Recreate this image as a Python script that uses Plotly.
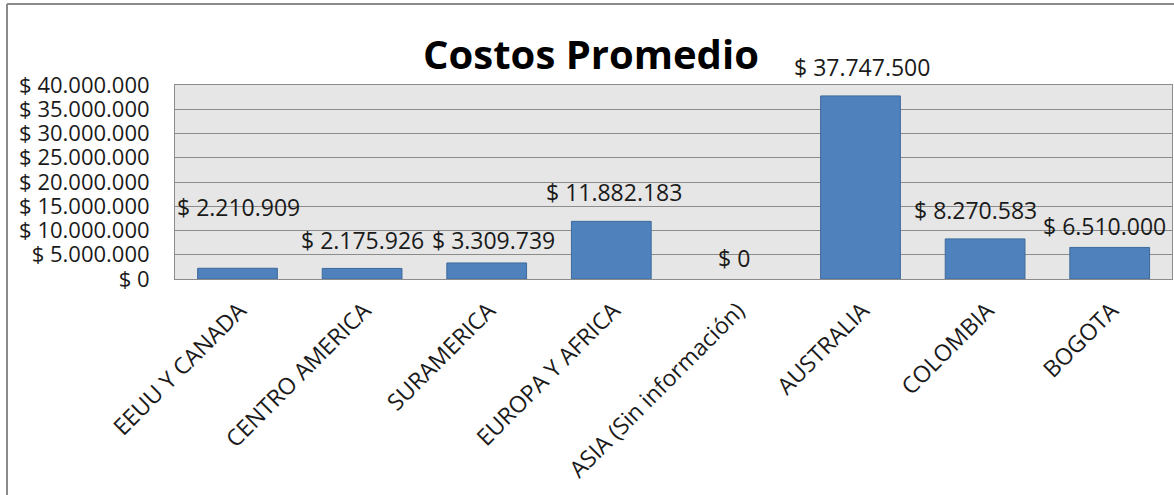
import plotly.graph_objects as go

categories = ["EEUU Y CANADA", "CENTRO AMERICA", "SURAMERICA", "EUROPA Y AFRICA",
              "ASIA (Sin información)", "AUSTRALIA", "COLOMBIA", "BOGOTA"]
values = [2210909, 2175926, 3309739, 11882183, 0, 37747500, 8270583, 6510000]
tick_vals = [0, 5000000, 10000000, 15000000, 20000000, 25000000, 30000000, 35000000, 40000000]

# label pixel offsets (style only)
label_yshift = [61, 28, 23, 29, 21, 29, 29, 21]
label_xshift = [1, 0, 7, 3, -2, 1, -10, -5]

def fmt(v):
    return "$ " + f"{v:,}".replace(",", ".")

W, H = 1174, 495
L, R, T, B = 175, 2, 85, 216

fig = go.Figure()
fig.add_trace(go.Bar(
    x=categories, y=values,
    marker=dict(color="#4f81bd",
                line=dict(color="#3d6a9c", width=[1 if v > 0 else 0 for v in values])),
    hoverinfo="x+y",
))

FONT = "Open Sans, Calibri, sans-serif"
for c, v, dx, dy in zip(categories, values, label_xshift, label_yshift):
    fig.add_annotation(x=c, y=v, text=fmt(v), showarrow=False,
                       xanchor="center", yanchor="middle",
                       xshift=dx, yshift=dy,
                       font=dict(family=FONT, size=23, color="#1a1a1a"))

pw = W - L - R
ph = H - T - B
def px(x):
    return (x - L) / pw
def py(y):
    return (H - B - y) / ph

# outer chart border (left and top)
fig.add_shape(type="line", xref="paper", yref="paper", x0=px(7), x1=px(7), y0=py(4), y1=py(H),
              line=dict(color="#8a8a8a", width=2))
fig.add_shape(type="line", xref="paper", yref="paper", x0=px(7), x1=px(W), y0=py(4), y1=py(4),
              line=dict(color="#8a8a8a", width=2))

fig.update_layout(
    width=W, height=H,
    margin=dict(l=L, r=R, t=T, b=B, autoexpand=False),
    paper_bgcolor="white",
    plot_bgcolor="#e6e6e6",
    showlegend=False,
    bargap=0.36,
    title=dict(text="<b>Costos Promedio</b>", x=591 / W, xanchor="center",
               y=1 - 55 / H, yanchor="middle",
               font=dict(family=FONT, size=40, color="black")),
    font=dict(family=FONT, size=20, color="#1a1a1a"),
    xaxis=dict(
        tickangle=-45, showgrid=False, showline=True, linecolor="#8c8c8c", linewidth=1,
        ticks="", ticklabelshift=2, ticklabelstandoff=8,
        tickfont=dict(family=FONT, size=23, color="#1a1a1a"),
        mirror=True, fixedrange=True,
    ),
    yaxis=dict(
        range=[0, 40000000], tickvals=tick_vals, ticktext=[fmt(v) for v in tick_vals],
        showgrid=True, gridcolor="#8c8c8c", gridwidth=1,
        showline=True, linecolor="#8c8c8c", linewidth=1, mirror=True,
        ticks="", ticklabelstandoff=20, zeroline=False,
        tickfont=dict(family=FONT, size=22, color="#1a1a1a"),
        fixedrange=True,
    ),
)

fig.write_html("out.html", config={"displayModeBar": False},
               post_script="document.body.style.margin='0';document.body.style.overflow='hidden';")
